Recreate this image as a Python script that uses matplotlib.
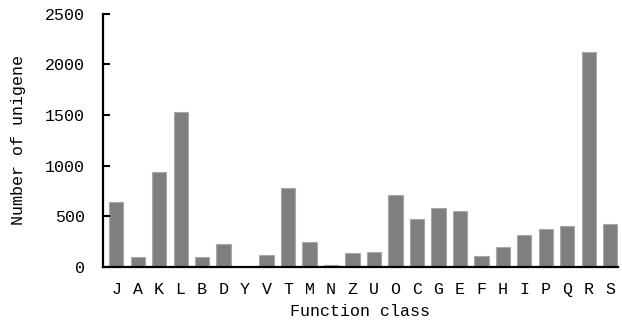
import matplotlib
matplotlib.use("Agg")
import matplotlib.pyplot as plt
import numpy as np

plt.rcParams['font.family'] = ['Liberation Mono', 'DejaVu Sans Mono']
plt.rcParams['font.size'] = 12

classes = ['J', 'A', 'K', 'L', 'B', 'D', 'Y', 'V', 'T', 'M', 'N', 'Z', 'U',
           'O', 'C', 'G', 'E', 'F', 'H', 'I', 'P', 'Q', 'R', 'S']
counts = [645, 103, 940, 1526, 94, 230, 2, 118, 783, 244, 15, 138, 151,
          714, 471, 586, 553, 112, 197, 313, 372, 405, 2122, 428]

fig = plt.figure(figsize=(6.22, 3.24), dpi=100)
ax = fig.add_axes([0.166, 0.176, 0.827, 0.782])

x = np.arange(len(classes))
ax.bar(x, counts, width=0.66, color='#7f7f7f', edgecolor='#a8a8a8', linewidth=0.8)

ax.set_xlim(-0.6, len(classes) - 1 + 0.34)
ax.set_ylim(0, 2500)
ax.set_yticks([0, 500, 1000, 1500, 2000, 2500])
ax.set_xticks(x)
ax.set_xticklabels(classes)

for s in ['top', 'right']:
    ax.spines[s].set_visible(False)
for s in ['left', 'bottom']:
    ax.spines[s].set_linewidth(1.6)

ax.tick_params(axis='y', direction='in', length=5, width=1.5, pad=13)
ax.tick_params(axis='x', length=0, pad=11)

ax.set_xlabel('Function class', labelpad=5)
ax.set_ylabel('Number of unigene', labelpad=14)

fig.savefig('out.png', dpi=100)
